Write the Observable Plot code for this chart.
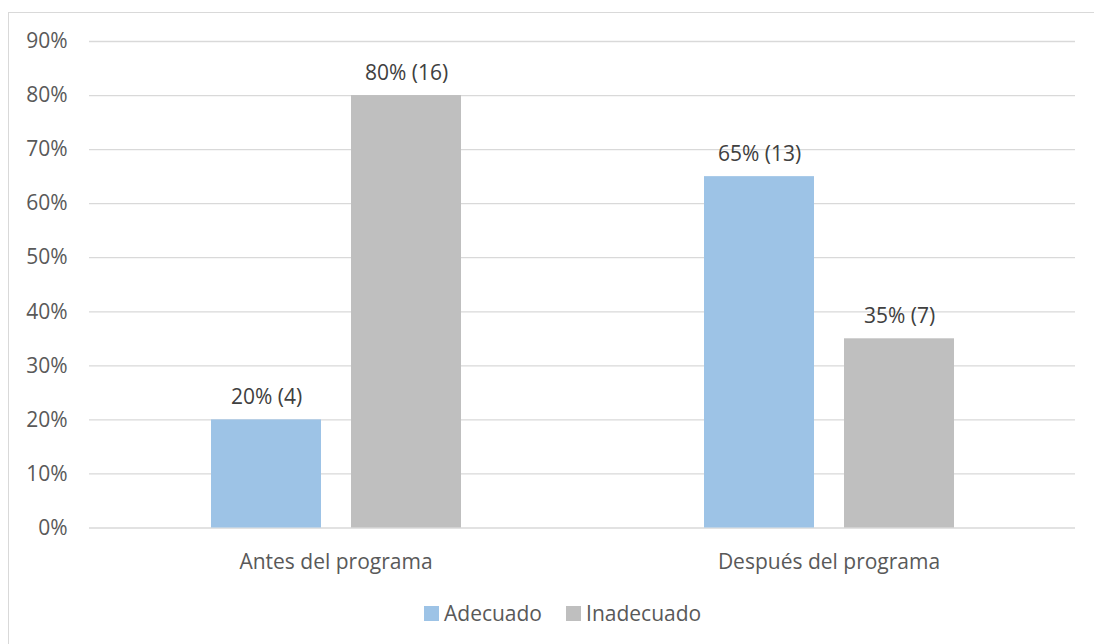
<!DOCTYPE html>
<html>
<head>
<meta charset="utf-8">
<script src="https://cdn.jsdelivr.net/npm/d3@7"></script>
<script src="https://cdn.jsdelivr.net/npm/@observablehq/plot@0.6"></script>
<style>
  html, body { margin: 0; padding: 0; background: #fff; overflow: hidden; }
  body { width: 1094px; height: 644px; position: relative; font-family: "Open Sans", sans-serif; }
  #frame { position: absolute; left: 8px; top: 12px; width: 1100px; height: 660px; border: 1.5px solid #d9d9d9; box-sizing: border-box; }
  #chart { position: absolute; left: 0; top: 0; }
  #legend { position: absolute; left: 424px; top: 599px; display: flex; align-items: center; font-size: 21px; color: #595959; white-space: nowrap; }
  .sw { width: 15px; height: 15px; display: inline-block; margin-right: 5px; }
  .item { display: flex; align-items: center; margin-right: 24px; }
</style>
</head>
<body>
<div id="frame"></div>
<div id="chart"></div>
<div id="legend"></div>
<script>
const categories = ["Antes del programa", "Después del programa"];
const series = ["Adecuado", "Inadecuado"];
const adecuadoPct = [0.20, 0.65];
const adecuadoN = [4, 13];
const inadecuadoPct = [0.80, 0.35];
const inadecuadoN = [16, 7];
const yTicks = [0, 0.1, 0.2, 0.3, 0.4, 0.5, 0.6, 0.7, 0.8, 0.9];
const colors = ["#9DC3E6", "#BFBFBF"];

const data = [];
categories.forEach((c, i) => {
  data.push({cat: c, serie: series[0], pct: adecuadoPct[i], n: adecuadoN[i]});
  data.push({cat: c, serie: series[1], pct: inadecuadoPct[i], n: inadecuadoN[i]});
});
const fmt = d3.format(".0%");

const chart = Plot.plot({
  width: 1094,
  height: 595,
  marginLeft: 89,
  marginRight: 19,
  marginTop: 41,
  marginBottom: 67.5,
  style: {fontFamily: "Open Sans, sans-serif", fontSize: "21px", color: "#595959", background: "transparent"},
  fx: {domain: categories, padding: 0, label: null, axis: "bottom", tickSize: 0, tickPadding: 26},
  x: {domain: series, paddingInner: 0.2143, paddingOuter: 0.866, axis: null},
  y: {domain: [0, 0.9], ticks: yTicks, tickFormat: fmt, label: null, tickSize: 0, tickPadding: 22},
  color: {domain: series, range: colors},
  marks: [
    Plot.gridY(yTicks, {stroke: "#d9d9d9", strokeOpacity: 1, strokeWidth: 1.3}),
    Plot.barY(data, {fx: "cat", x: "serie", y: "pct", fill: "serie"}),
    Plot.text(data, {fx: "cat", x: "serie", y: "pct", text: d => `${fmt(d.pct)} (${d.n})`, lineAnchor: "bottom", dy: -16, fill: "#404040", fontSize: 21})
  ]
});
document.getElementById("chart").appendChild(chart);

const legend = document.getElementById("legend");
series.forEach((s, i) => {
  const item = document.createElement("div");
  item.className = "item";
  const sw = document.createElement("span");
  sw.className = "sw";
  sw.style.background = colors[i];
  item.appendChild(sw);
  item.appendChild(document.createTextNode(s));
  legend.appendChild(item);
});
</script>
</body>
</html>
